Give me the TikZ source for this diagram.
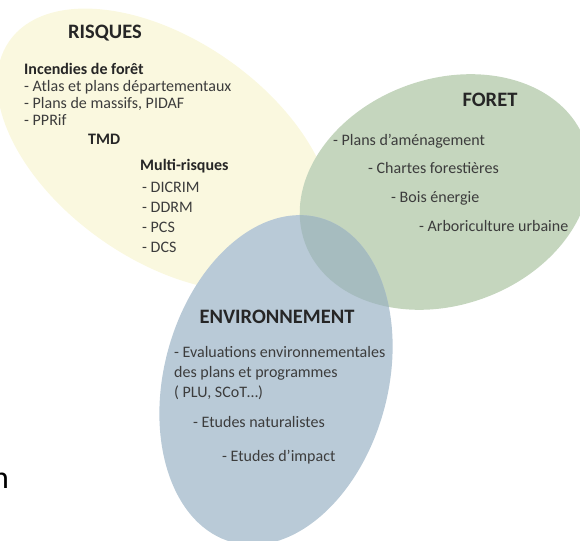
\documentclass[tikz,border=0pt]{standalone}
\usepackage{fontspec}
\setmainfont{Carlito}
\usetikzlibrary{shapes.geometric}
\definecolor{riskfill}{RGB}{250,248,223}
\definecolor{forestfill}{RGB}{197,214,190}
\definecolor{envfill}{RGB}{185,202,215}
\definecolor{overlapfill}{RGB}{166,188,191}
\definecolor{inkgray}{RGB}{60,60,60}
\tikzset{
    zone/.style={ellipse, inner sep=0pt, outer sep=0pt},
    title/.style={font=\fontsize{20.5}{24}\selectfont\bfseries, text=black!85,
                  anchor=base, inner sep=0pt},
    item/.style={font=\fontsize{16}{19}\selectfont, text=inkgray,
                 anchor=base west, inner sep=0pt},
    heading/.style={item, font=\fontsize{16}{19}\selectfont\bfseries, text=black!85},
}

\begin{document}
\begin{tikzpicture}[x=1pt, y=-1pt]
    \useasboundingbox (0,0) rectangle (580,540);

    \node[zone, fill=riskfill, minimum width=380pt, minimum height=220pt,
          rotate=-35] (risques) at (165,150) {};
    \node[zone, fill=forestfill, minimum width=298pt, minimum height=226pt,
          rotate=20] (foret) at (445,192) {};
    \node[zone, fill=envfill, minimum width=224pt, minimum height=336pt,
          rotate=-15] (environnement) at (276,380) {};
    \begin{scope}
        \clip[rotate around={20:(foret.center)}] (foret.center)
            ellipse [x radius=149pt, y radius=113pt];
        \fill[overlapfill, rotate around={-15:(environnement.center)}]
            (environnement.center) ellipse [x radius=112pt, y radius=168pt];
    \end{scope}

    \node[title] (risquestitle) at (105,39) {RISQUES};
    \node[heading] (incendies) at (24,75) {Incendies de forêt};
    \node[item] (atlas) at (24,92) {- Atlas et plans départementaux};
    \node[item] (massifs) at (24,109) {- Plans de massifs, PIDAF};
    \node[item] (pprif) at (24,126) {- PPRif};
    \node[heading] (tmd) at (88,145) {TMD};
    \node[heading] (multi) at (140,171) {Multi-risques};
    \foreach \doc/\y in {DICRIM/192,DDRM/212,PCS/232,DCS/252} {
        \node[item] (\doc) at (142,\y) {- \doc};
    }

    \node[title] (forettitle) at (490,107) {FORET};
    \node[item] (amenagement) at (333,146) {- Plans d’aménagement};
    \node[item] (chartes) at (368,173) {- Chartes forestières};
    \node[item] (bois) at (391,202) {- Bois énergie};
    \node[item] (arbo) at (419,231) {- Arboriculture urbaine};

    \node[title] (envtitle) at (277,323) {ENVIRONNEMENT};
    \node[item] (evaluations) at (174,357) {- Evaluations environnementales};
    \node[item] (programmes) at (174,377) {des plans et programmes};
    \node[item] (plu) at (174,397) {( PLU, SCoT…)};
    \node[item] (naturalistes) at (193,427) {- Etudes naturalistes};
    \node[item] (impact) at (222,461) {- Etudes d’impact};

    \node[font=\fontsize{32}{36}\selectfont, anchor=base west, inner sep=0pt]
        (cutn) at (-8,488) {n};
\end{tikzpicture}
\end{document}
